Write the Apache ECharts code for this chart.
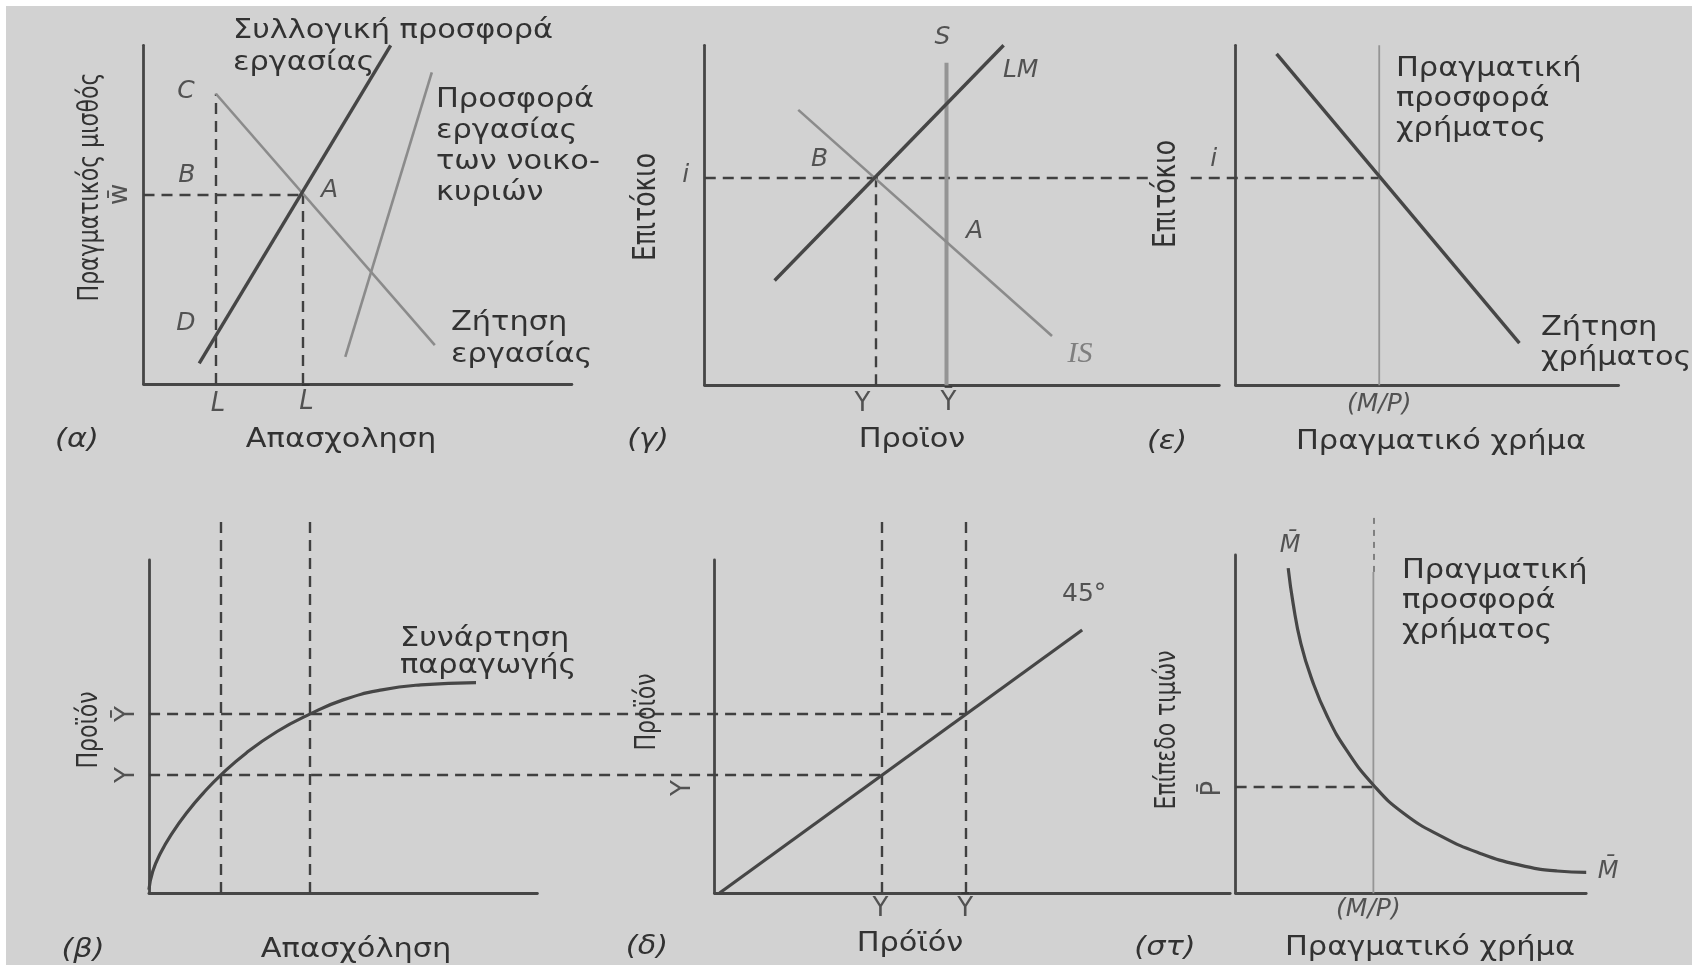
<!DOCTYPE html>
<html>
<head>
<meta charset="utf-8">
<script src="https://cdn.jsdelivr.net/npm/echarts@6/dist/echarts.min.js"></script>
<style>
  html, body { margin: 0; padding: 0; background: #ffffff; }
  #chart { width: 1692px; height: 965px; }
</style>
</head>
<body>
<div id="chart"></div>
<script>
// Every panel uses diagram units 0..10 on both axes.

// (α) Labour market
const labourDemand = [[1.69, 8.57], [6.8, 1.15]];
const collectiveLabourSupply = [[1.3, 0.61], [5.77, 10.0]];
const householdLabourSupply = [[4.71, 0.8], [6.73, 9.2]];
const realWageBar = 5.6;
const employmentL = 1.69;
const employmentLBar = 3.71;
const pointD = [1.69, 1.43];

// (γ) IS-LM
const lmCurve = [[1.36, 3.08], [5.81, 10.0]];
const isCurve = [[1.82, 8.1], [6.75, 1.45]];
const supplyS = 4.7;
const supplySTop = 9.49;
const interestI = 6.1;
const outputY = 3.32;
const isAtS = 4.21;

// (ε) Money market
const moneyDemand = [[1.07, 9.75], [7.41, 1.24]];
const realMoneySupply = 3.75;
const iGuideStart = -13.86;    // the i guide starts at the (γ) axis

// (β) Production function
const productionFunction = [
  [0, 0.1], [0.1, 0.65], [0.3, 1.2], [0.6, 1.8], [1.0, 2.45], [1.4, 3.0], [1.85, 3.54],
  [2.5, 4.2], [3.3, 4.85], [4.14, 5.37], [5.0, 5.8], [6.0, 6.1], [7.0, 6.25], [8.42, 6.32]
];
const betaL = 1.85;
const betaLBar = 4.14;
const outputYLevel = 3.54;
const outputYBarLevel = 5.37;
const betaGuideTop = 11.35;

// (δ) 45° line
const line45 = [[0.1, 0], [7.13, 7.9]];
const deltaY = 3.24;
const deltaYBar = 4.88;
const deltaGuideTop = 11.33;
const yGuideStart = -10.96;    // the Y guides start at the (β) axis

// (στ) Price level
const mBarCurve = [
  [1.5, 9.61], [1.64, 8.57], [1.86, 7.39], [2.18, 6.31], [2.62, 5.22], [3.16, 4.24],
  [3.93, 3.2], [4.8, 2.36], [5.9, 1.67], [6.98, 1.18], [8.08, 0.84], [9.17, 0.66], [10.0, 0.62]
];
const stMoney = 3.93;
const priceBar = 3.15;
const stSupplySolidTop = 9.5;
const stSupplyDashTop = 11.1;

const DARK = '#464646';
const LIGHT = '#8b8b8b';
const TEXT = '#323232';
const PAPER = '#d2d2d2';
const FONT = '"DejaVu Sans", sans-serif';
const DASH = [11, 7];

const grids = [
  { left: 143.5, top: 45.3, width: 428.4, height: 338.8 },  // α
  { left: 704.6, top: 45.3, width: 514.7, height: 339.9 },  // γ
  { left: 1235.6, top: 45.3, width: 383, height: 339.9 },   // ε
  { left: 148.9, top: 560, width: 388.5, height: 333 },     // β
  { left: 714.4, top: 560, width: 515.8, height: 333 },     // δ
  { left: 1235.6, top: 555, width: 350.6, height: 338.3 }   // στ
];

function axis(i) {
  return {
    type: 'value', gridIndex: i, min: 0, max: 10,
    axisLine: { show: true, onZero: false, lineStyle: { color: DARK, width: 2.8 } },
    axisTick: { show: false }, axisLabel: { show: false }, splitLine: { show: false }
  };
}

function seg(i, data, color, width, type, extra) {
  return Object.assign({
    type: 'line', xAxisIndex: i, yAxisIndex: i, data: data,
    showSymbol: false, silent: true, clip: false, animation: false,
    lineStyle: { color: color, width: width, type: type || 'solid', cap: 'butt' }
  }, extra || {});
}

// Guide lines: straight segments that may run across into a neighbouring panel
function guides(i, segments, color, width, type) {
  return {
    type: 'lines', coordinateSystem: 'cartesian2d', xAxisIndex: i, yAxisIndex: i,
    silent: true, clip: false, animation: false, z: 3,
    lineStyle: { color: color || '#404040', width: width || 2.4, type: type || DASH, opacity: 1, curveness: 0 },
    data: segments.map(s => ({ coords: s }))
  };
}

function tags(i, items) {
  return {
    type: 'scatter', xAxisIndex: i, yAxisIndex: i, symbolSize: 0, silent: true,
    clip: false, animation: false, z: 5,
    data: items.map(t => ({
      value: t.at, name: t.text,
      label: {
        show: true, position: 'inside', offset: t.off, rotate: t.rot || 0,
        formatter: t.text, color: t.color || TEXT,
        fontFamily: t.family || FONT, fontSize: t.size || 25,
        fontStyle: t.italic ? 'italic' : 'normal'
      }
    }))
  };
}

const series = [
  // (α)
  seg(0, labourDemand, LIGHT, 2.6),
  seg(0, householdLabourSupply, LIGHT, 2.6),
  seg(0, collectiveLabourSupply, DARK, 3.4),
  guides(0, [
    [[0, realWageBar], [employmentLBar, realWageBar]],
    [[employmentL, 0], [employmentL, labourDemand[0][1]]],
    [[employmentLBar, 0], [employmentLBar, realWageBar]]
  ]),
  tags(0, [
    { at: [employmentL, labourDemand[0][1]], text: 'C', off: [-30, -2], italic: true },
    { at: [employmentL, realWageBar], text: 'B', off: [-29, -19], italic: true },
    { at: [employmentLBar, realWageBar], text: 'A', off: [27, -4], italic: true },
    { at: pointD, text: 'D', off: [-30, -12], italic: true },
    { at: [0, realWageBar], text: 'w\u0304', off: [0, -23], rot: 90, size: 26 },
    { at: [employmentL, 0], text: 'L', off: [2, 20], italic: true, size: 26 },
    { at: [employmentLBar, 0], text: 'L\u0304', off: [4, 18], italic: true, size: 26 }
  ]),

  // (γ)
  seg(1, [[supplyS, 0], [supplyS, supplySTop]], '#949494', 4),
  seg(1, isCurve, LIGHT, 2.6),
  seg(1, lmCurve, DARK, 3.4),
  guides(1, [[[outputY, 0], [outputY, interestI]]]),
  tags(1, [
    { at: [supplyS, supplySTop], text: 'S', off: [-4, -25], italic: true },
    { at: lmCurve[1], text: 'LM', off: [17, 25], italic: true },
    { at: [outputY, interestI], text: 'B', off: [-56, -18], italic: true },
    { at: [supplyS, isAtS], text: 'A', off: [28, -11], italic: true },
    { at: isCurve[1], text: 'IS', off: [28, 18], italic: true, family: '"Liberation Serif", serif', size: 30, color: '#6a6a6a' },
    { at: [0, interestI], text: 'i', off: [-19, -2], italic: true },
    { at: [outputY, 0], text: 'Y', off: [-13, 19], size: 26 },
    { at: [supplyS, 0], text: '\u0232', off: [2, 18], size: 26 }
  ]),

  // (ε)
  seg(2, [[realMoneySupply, 0], [realMoneySupply, 10]], '#959595', 1.8),
  seg(2, moneyDemand, DARK, 3.4),
  guides(2, [[[iGuideStart, interestI], [realMoneySupply, interestI]]]),
  tags(2, [
    { at: [0, interestI], text: 'i', off: [-22, -18], italic: true },
    { at: [realMoneySupply, 0], text: '(M/P)', off: [0, 19], italic: true }
  ]),

  // (β)
  seg(3, productionFunction, DARK, 3.2, 'solid', { smooth: true }),
  guides(3, [
    [[betaL, 0], [betaL, betaGuideTop]],
    [[betaLBar, 0], [betaLBar, betaGuideTop]]
  ]),
  tags(3, [
    { at: [0, outputYBarLevel], text: '\u0232', off: [0, -22], rot: 90, size: 26 },
    { at: [0, outputYLevel], text: 'Y', off: [0, -22], rot: 90, size: 26 }
  ]),

  // (δ)
  seg(4, line45, DARK, 3.2),
  guides(4, [
    [[deltaY, 0], [deltaY, deltaGuideTop]],
    [[deltaYBar, 0], [deltaYBar, deltaGuideTop]],
    [[yGuideStart, outputYLevel], [deltaY, outputYLevel]],
    [[yGuideStart, outputYBarLevel], [deltaYBar, outputYBarLevel]]
  ]),
  tags(4, [
    { at: line45[1], text: '45°', off: [2, -35] },
    { at: [0, outputYLevel], text: 'Y', off: [-13, -31], rot: 90, size: 26 },
    { at: [deltaY, 0], text: 'Y', off: [-1, 16], size: 26 },
    { at: [deltaYBar, 0], text: '\u0232', off: [-1, 16], size: 26 }
  ]),

  // (στ)
  seg(5, [[stMoney, 0], [stMoney, stSupplySolidTop]], '#959595', 1.8),
  guides(5, [[[stMoney, stSupplySolidTop], [stMoney, stSupplyDashTop]]], '#777777', 1.8, [6, 6]),
  seg(5, mBarCurve, DARK, 3.2, 'solid', { smooth: true }),
  guides(5, [[[0, priceBar], [stMoney, priceBar]]]),
  tags(5, [
    { at: mBarCurve[0], text: 'M\u0304', off: [2, -22], italic: true, size: 24 },
    { at: mBarCurve[mBarCurve.length - 1], text: 'M\u0304', off: [22, -1], italic: true, size: 24 },
    { at: [0, priceBar], text: 'P\u0304', off: [-2, -22], rot: 90, size: 26 },
    { at: [stMoney, 0], text: '(M/P)', off: [-5, 16], italic: true }
  ])
];

// Free text: axis titles, panel letters and curve captions
const WIDE = 1.17;
function txt(x, y, s, opt) {
  opt = opt || {};
  const rotated = !!opt.rot;
  return {
    type: 'text', x: x, y: y, rotation: opt.rot || 0, z: 10,
    scaleX: rotated ? 1 : WIDE, scaleY: rotated ? 1.25 : 1,
    style: {
      text: s, fill: TEXT, font: (opt.italic ? 'italic ' : '') + (opt.size || 26) + 'px ' + FONT,
      align: opt.align || 'center', verticalAlign: opt.valign || 'middle',
      lineHeight: opt.lh || 30,
      backgroundColor: opt.bg, padding: opt.bg ? [0, 4] : 0
    }
  };
}
const ROT = Math.PI / 2;

const graphic = [
  { type: 'rect', shape: { x: 0, y: 0, width: 1692, height: 6 }, style: { fill: '#ffffff' }, z: 20 },
  { type: 'rect', shape: { x: 0, y: 0, width: 6, height: 965 }, style: { fill: '#ffffff' }, z: 20 },

  // (α)
  txt(91, 187, 'Πραγματικός μισθός', { rot: ROT, size: 22 }),
  txt(77, 440, '(α)', { italic: true }),
  txt(341, 440, 'Απασχοληση'),
  txt(233, 15, 'Συλλογική προσφορά\nεργασίας', { align: 'left', valign: 'top', lh: 32 }),
  txt(436, 84.5, 'Προσφορά\nεργασίας\nτων νοικο-\nκυριών', { align: 'left', valign: 'top', lh: 31 }),
  txt(451, 307, 'Ζήτηση\nεργασίας', { align: 'left', valign: 'top', lh: 32 }),

  // (γ)
  txt(647, 207, 'Επιτόκιο', { rot: ROT, size: 25 }),
  txt(648, 440, '(γ)', { italic: true }),
  txt(912, 440, 'Προϊον'),

  // (ε)
  txt(1167, 194, 'Επιτόκιο', { rot: ROT, size: 25, bg: PAPER }),
  txt(1167, 442, '(ε)', { italic: true }),
  txt(1441, 442, 'Πραγματικό χρήμα'),
  txt(1396, 54, 'Πραγματική\nπροσφορά\nχρήματος', { align: 'left', valign: 'top', lh: 30 }),
  txt(1541, 313, 'Ζήτηση\nχρήματος', { align: 'left', valign: 'top', lh: 30 }),

  // (β)
  txt(90, 730, 'Προϊόν', { rot: ROT, size: 22 }),
  txt(400, 626, 'Συνάρτηση\nπαραγωγής', { align: 'left', valign: 'top', lh: 27 }),
  txt(83, 950, '(β)', { italic: true }),
  txt(356, 950, 'Απασχόληση'),

  // (δ)
  txt(648, 712, 'Προϊόν', { rot: ROT, size: 22 }),
  txt(647, 947, '(δ)', { italic: true }),
  txt(910, 944, 'Πρόϊόν'),

  // (στ)
  txt(1168, 730, 'Επίπεδο τιμών', { rot: ROT, size: 22 }),
  txt(1165, 948, '(στ)', { italic: true }),
  txt(1430, 948, 'Πραγματικό χρήμα'),
  txt(1402, 556.7, 'Πραγματική\nπροσφορά\nχρήματος', { align: 'left', valign: 'top', lh: 30 })
];

const chart = echarts.init(document.getElementById('chart'), null, { renderer: 'canvas' });
chart.setOption({
  animation: false,
  backgroundColor: PAPER,
  grid: grids,
  xAxis: grids.map((g, i) => axis(i)),
  yAxis: grids.map((g, i) => axis(i)),
  series: series,
  graphic: graphic
});
</script>
</body>
</html>
